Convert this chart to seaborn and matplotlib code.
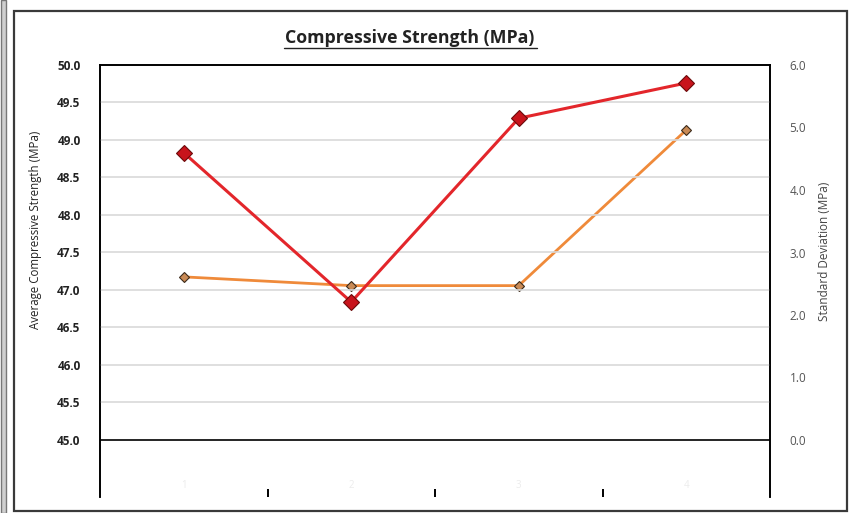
import matplotlib

matplotlib.use("Agg")

import matplotlib.pyplot as plt
import numpy as np
import pandas as pd
import seaborn as sns
from matplotlib.patches import Rectangle
from matplotlib.ticker import FixedLocator


# Data
CATEGORIES = ["1", "2", "3", "4"]
AVG_STRENGTH = [48.83, 46.84, 49.29, 49.76]
STD_DEV = [2.61, 2.47, 2.47, 4.96]

df = pd.DataFrame(
    {"pos": np.arange(len(CATEGORIES)), "avg": AVG_STRENGTH, "std": STD_DEV}
)

sns.set_theme(style="white")
plt.rcParams["font.family"] = ["Open Sans", "DejaVu Sans"]

fig = plt.figure(figsize=(8.49, 5.13), dpi=100)
ax = fig.add_axes([100 / 849, 1 - 497 / 513, 670 / 849, 432 / 513])
ax2 = ax.twinx()

# Gridlines on the left scale
for yv in np.arange(45.5, 50.0, 0.5):
    ax.axhline(yv, color="#d9d9d9", lw=1.2, zorder=0)
ax.axhline(45.0, color="black", lw=1.2, zorder=1)

sns.lineplot(
    data=df, x="pos", y="avg", ax=ax, color="#e3262b", lw=2.2,
    marker="D", markersize=8, markerfacecolor="#c8141c",
    markeredgecolor="#6b0a0a", markeredgewidth=0.8, zorder=4,
)
sns.lineplot(
    data=df, x="pos", y="std", ax=ax2, color="#ef8a3a", lw=2.0,
    marker="D", markersize=5.5, markerfacecolor="#c98a55",
    markeredgecolor="#3b2a1a", markeredgewidth=0.8, zorder=3,
)
ax.set_zorder(ax2.get_zorder() + 1)
ax.patch.set_visible(False)

ax.set_xlim(-0.5, 3.5)
ax.set_ylim(44.24, 50.0)
ax2.set_ylim(-0.912, 6.0)

ax.set_yticks(np.arange(45.0, 50.01, 0.5))
ax.set_yticklabels([f"{v:.1f}" for v in np.arange(45.0, 50.01, 0.5)],
                   fontsize=8.5, fontweight="bold", color="#222222")
ax2.set_yticks(np.arange(0, 6.01, 1.0))
ax2.set_yticklabels([f"{v:.1f}" for v in np.arange(0, 6.01, 1.0)],
                    fontsize=8.5, color="#555555")

ax.set_xticks(df["pos"])
ax.set_xticklabels(CATEGORIES, fontsize=7, color="#ececec")
ax.xaxis.set_minor_locator(FixedLocator([0.5, 1.5, 2.5]))
ax.tick_params(axis="x", which="major", length=0, pad=-12)
ax.tick_params(axis="x", which="minor", bottom=True, direction="in",
               length=6, width=1.4, color="black")
ax.tick_params(axis="y", length=0, pad=14)
ax2.tick_params(axis="y", length=0, pad=14)

ax.set_xlabel("")
ax.set_ylabel("Average Compressive Strength (MPa)", fontsize=8.3,
              color="#222222")
ax2.set_ylabel("Standard Deviation (MPa)", fontsize=8.5, color="#444444")
ax.yaxis.set_label_coords(-0.087, 0.618)
ax2.yaxis.set_label_coords(1.072, 0.569)

for a in (ax, ax2):
    a.spines["bottom"].set_visible(False)
    for s in ("top", "left", "right"):
        a.spines[s].set_color("black")
        a.spines[s].set_linewidth(1.2)

fig.text(410 / 849, 1 - 38 / 513, "Compressive Strength (MPa)",
         ha="center", va="center", fontsize=12.8, fontweight="bold",
         color="#222222")
fig.add_artist(plt.Line2D([284 / 849, 537 / 849], [1 - 48 / 513, 1 - 48 / 513],
                          color="#222222", lw=1.0))

# Chart border and screenshot edge
fig.add_artist(Rectangle((14 / 849, 1 - 511 / 513), 833 / 849, 500 / 513,
                         fill=False, edgecolor="#3a3a3a", lw=1.6))
fig.add_artist(Rectangle((1 / 849, 0), 5 / 849, 1, facecolor="#cfcfcf",
                         edgecolor="#777777", lw=1.0))

fig.savefig("out.png", dpi=100)
